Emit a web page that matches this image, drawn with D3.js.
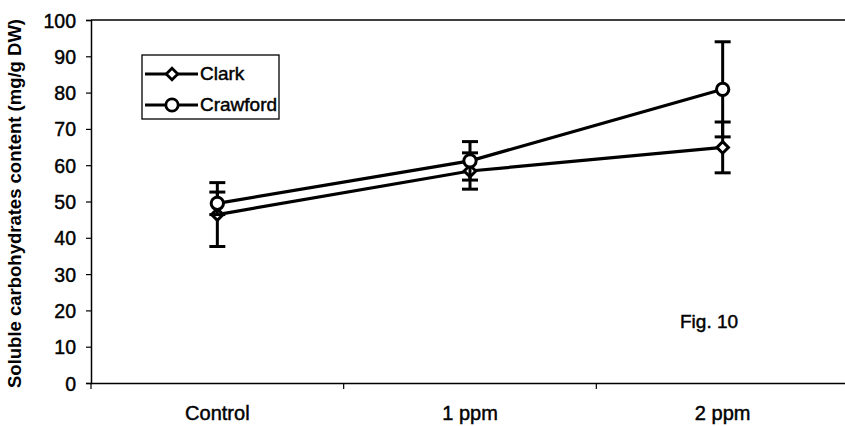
<!DOCTYPE html>
<html>
<head>
<meta charset="utf-8">
<script src="https://cdn.jsdelivr.net/npm/d3@7"></script>
<style>
  body { margin: 0; background: #fff; }
  svg { font-family: "Liberation Sans", Arial, sans-serif; }
  .heavy { stroke: #000; stroke-width: 0.45px; }
</style>
</head>
<body>
<svg id="chart" width="845" height="426"></svg>
<script>
// data
const categories = ["Control", "1 ppm", "2 ppm"];
const clarkValues = [46.4, 58.4, 64.9];
const clarkErrors = [8.8, 5.0, 7.0];
const crawfordValues = [49.5, 61.2, 80.9];
const crawfordErrors = [3.1, 5.3, 13.1];
const yTicks = [0, 10, 20, 30, 40, 50, 60, 70, 80, 90, 100];

const svg = d3.select("#chart");
const margin = { left: 91, top: 20, bottom: 43 };
const plotRight = 849;
const height = 426;

const x = d3.scaleBand().domain(categories).range([margin.left, plotRight]);
const y = d3.scaleLinear().domain([0, 100]).range([height - margin.bottom, margin.top]);

// y axis
const yAxis = svg.append("g")
    .attr("transform", `translate(${margin.left},0)`)
    .call(d3.axisLeft(y).tickValues(yTicks).tickSize(5).tickPadding(10));
yAxis.select(".domain").attr("stroke-width", 1.5);
yAxis.selectAll("line").attr("stroke-width", 1.2);
yAxis.selectAll("text").attr("font-size", 19.5).attr("fill", "#000")
    .attr("dy", "0.36em").attr("class", "heavy");

// x axis
const xAxis = svg.append("g")
    .attr("transform", `translate(0,${y(0)})`)
    .call(d3.axisBottom(x).tickSize(0).tickPadding(0));
xAxis.select(".domain").attr("stroke-width", 1.5);
xAxis.selectAll("text").attr("font-size", 20).attr("fill", "#000")
    .attr("y", 37).attr("dy", 0).attr("class", "heavy");
// tick marks between categories
svg.append("g").selectAll("line")
    .data(categories.concat(["end"]).map((c, i) => margin.left + i * x.step()))
    .join("line")
    .attr("x1", d => d).attr("x2", d => d)
    .attr("y1", y(0)).attr("y2", y(0) + 6)
    .attr("stroke", "#000").attr("stroke-width", 1.2);

// top border of the plot area
svg.append("line")
    .attr("x1", margin.left).attr("x2", 845)
    .attr("y1", y(100)).attr("y2", y(100))
    .attr("stroke", "#000").attr("stroke-width", 1.3);

// y axis title
svg.append("text")
    .attr("transform", `translate(21,${(y(0) + y(100)) / 2 + 2}) rotate(-90)`)
    .attr("text-anchor", "middle")
    .attr("font-size", 18.5)
    .attr("font-weight", "bold")
    .text("Soluble carbohydrates content (mg/g DW)");

const cx = c => x(c) + x.bandwidth() / 2;

function drawSeries(values, errors, marker) {
    const pts = categories.map((c, i) => ({ c, v: values[i], e: errors[i] }));
    const g = svg.append("g");

    g.selectAll(".err").data(pts).join("g").each(function (d) {
        const s = d3.select(this);
        s.append("line").attr("x1", cx(d.c)).attr("x2", cx(d.c))
            .attr("y1", y(d.v - d.e)).attr("y2", y(d.v + d.e))
            .attr("stroke", "#000").attr("stroke-width", 3);
        [d.v - d.e, d.v + d.e].forEach(v => {
            s.append("line").attr("x1", cx(d.c) - 8).attr("x2", cx(d.c) + 8)
                .attr("y1", y(v)).attr("y2", y(v))
                .attr("stroke", "#000").attr("stroke-width", 3);
        });
    });

    g.append("path")
        .datum(pts)
        .attr("fill", "none")
        .attr("stroke", "#000")
        .attr("stroke-width", 3.2)
        .attr("d", d3.line().x(d => cx(d.c)).y(d => y(d.v)));

    g.selectAll(".mk").data(pts).join("path")
        .attr("transform", d => `translate(${cx(d.c)},${y(d.v)})`)
        .attr("d", marker)
        .attr("fill", "#fff")
        .attr("stroke", "#000")
        .attr("stroke-width", 3);
}

const diamond = d3.symbol().type(d3.symbolDiamond2).size(85)();
const circle = d3.symbol().type(d3.symbolCircle).size(120)();

drawSeries(clarkValues, clarkErrors, diamond);
drawSeries(crawfordValues, crawfordErrors, circle);

// legend
const legend = svg.append("g");
legend.append("rect")
    .attr("x", 142).attr("y", 55).attr("width", 137).attr("height", 64)
    .attr("fill", "#fff").attr("stroke", "#000").attr("stroke-width", 1.3);
[["Clark", diamond, 74], ["Crawford", circle, 105]].forEach(([name, m, ly]) => {
    legend.append("line").attr("x1", 145).attr("x2", 198).attr("y1", ly).attr("y2", ly)
        .attr("stroke", "#000").attr("stroke-width", 3);
    legend.append("path").attr("transform", `translate(172,${ly})`).attr("d", m)
        .attr("fill", "#fff").attr("stroke", "#000").attr("stroke-width", 2.8);
    legend.append("text").attr("x", 200).attr("y", ly + 6)
        .attr("font-size", 19).attr("class", "heavy").text(name);
});

// figure label
svg.append("text")
    .attr("x", 680).attr("y", 328)
    .attr("font-size", 19)
    .attr("class", "heavy")
    .text("Fig. 10");
</script>
</body>
</html>
